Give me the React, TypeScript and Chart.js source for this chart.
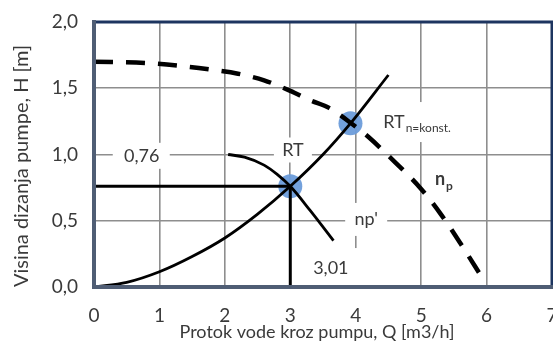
import React, { useEffect, useRef } from "react";
import { Chart, registerables } from "chart.js";

Chart.register(...registerables);

// ---- data ----
const X_MIN = 0;
const X_MAX = 7;
const Y_MIN = 0;
const Y_MAX = 2;

// pump curve n_p (dashed)
const PUMP_Q = [0, 0.8, 1.3, 1.8, 2.2, 2.6, 3.0, 3.3, 3.6, 3.92, 4.2, 4.5, 5.0, 5.3, 5.6, 5.92];
const PUMP_H = [1.7, 1.69, 1.67, 1.64, 1.61, 1.56, 1.48, 1.41, 1.35, 1.24, 1.13, 0.99, 0.74, 0.55, 0.33, 0.08];

// system curve RT
const SYS_Q = [0, 0.5, 1, 1.5, 2, 2.5, 3, 3.5, 3.92, 4.5];
const SYS_H = [0, 0.035, 0.115, 0.23, 0.37, 0.55, 0.76, 1.0, 1.235, 1.6];

// reduced-speed pump curve np'
const NP2_Q = [2.05, 2.3, 2.6, 2.8, 3.0, 3.3, 3.66];
const NP2_H = [1.0, 0.98, 0.92, 0.85, 0.76, 0.58, 0.35];

// operating points
const OP_Q = [3.0];
const OP_H = [0.76];
const OPN_Q = [3.92];
const OPN_H = [1.235];

// text labels
const LABEL_TEXT = ["0,76", "RT", "RT", "n", "np'", "3,01"];
const LABEL_SUB = ["", "", "n=konst.", "p", "", ""];
const LABEL_Q = [0.73, 3.04, 4.42, 5.21, 4.16, 3.62];
const LABEL_H = [0.99, 1.034, 1.245, 0.81, 0.51, 0.143];

const X_TITLE = "Protok vode kroz pumpu, Q [m3/h]";
const Y_TITLE = "Visina dizanja pumpe, H [m]";

// ---- styling for labels (px) ----
const LABEL_STYLE = [
  { align: "center", bold: false, box: [-29, 57, 26] },
  { align: "center", bold: false, box: [-19, 38, 25] },
  { align: "left", bold: false, box: [-5, 82, 40] },
  { align: "left", bold: true, box: null },
  { align: "center", bold: false, box: [-21, 42, 33] },
  { align: "center", bold: false, box: [-29, 60, 40] },
];

const FONT = "Lato, 'Open Sans', sans-serif";
const TEXT_COLOR = "#3a3a3a";

function pts(xs: number[], ys: number[]) {
  return xs.map((x, i) => ({ x, y: ys[i] }));
}

const overlayPlugin = {
  id: "overlay",
  beforeDatasetsDraw(chart: any) {
    const { ctx, scales } = chart;
    const xs = scales.x;
    const ys = scales.y;
    ctx.save();
    LABEL_TEXT.forEach((text, i) => {
      const st = LABEL_STYLE[i];
      const sub = LABEL_SUB[i];
      const px = xs.getPixelForValue(LABEL_Q[i]);
      const py = ys.getPixelForValue(LABEL_H[i]);
      if (st.box) {
        ctx.fillStyle = "#ffffff";
        ctx.fillRect(px + st.box[0], py - st.box[2] / 2, st.box[1], st.box[2]);
      }
      const mainFont = `${st.bold ? "bold " : ""}18px ${FONT}`;
      const subFont = `${st.bold ? "bold " : ""}12px ${FONT}`;
      ctx.font = mainFont;
      const w1 = ctx.measureText(text).width;
      ctx.font = subFont;
      const w2 = sub ? ctx.measureText(sub).width : 0;
      const total = w1 + w2;
      const left = st.align === "center" ? px - total / 2 : px;
      ctx.fillStyle = TEXT_COLOR;
      ctx.textBaseline = "middle";
      ctx.textAlign = "left";
      ctx.font = mainFont;
      ctx.fillText(text, left, py);
      if (sub) {
        ctx.font = subFont;
        ctx.fillText(sub, left + w1 + 1, py + 6);
      }
    });
    ctx.restore();
  },
  afterDraw(chart: any) {
    const { ctx, chartArea: a } = chart;
    ctx.save();
    ctx.lineCap = "square";
    // top & right
    ctx.strokeStyle = "#1d3560";
    ctx.lineWidth = 3;
    ctx.beginPath();
    ctx.moveTo(a.left, a.top);
    ctx.lineTo(a.right, a.top);
    ctx.lineTo(a.right, a.bottom);
    ctx.stroke();
    // left & bottom
    ctx.strokeStyle = "#4f5d74";
    ctx.lineWidth = 4;
    ctx.beginPath();
    ctx.moveTo(a.left, a.top);
    ctx.lineTo(a.left, a.bottom);
    ctx.lineTo(a.right, a.bottom);
    ctx.stroke();

    // axis titles
    ctx.fillStyle = TEXT_COLOR;
    ctx.textAlign = "center";
    ctx.textBaseline = "middle";
    ctx.font = `18px ${FONT}`;
    ctx.fillText(X_TITLE, 317, 332);
    ctx.translate(22, 166);
    ctx.rotate(-Math.PI / 2);
    ctx.font = `20px ${FONT}`;
    ctx.fillText(Y_TITLE, 0, 0);
    ctx.restore();
  },
};

export default function App() {
  const ref = useRef<HTMLCanvasElement | null>(null);

  useEffect(() => {
    if (!ref.current) return;
    const lineBase = {
      borderColor: "#000000",
      pointRadius: 0,
      fill: false,
      showLine: true,
    };
    const chart = new Chart(ref.current, {
      type: "scatter",
      data: {
        datasets: [
          {
            ...lineBase,
            label: "n_p",
            data: pts(PUMP_Q, PUMP_H),
            borderWidth: 4.5,
            borderDash: [19, 13],
            cubicInterpolationMode: "monotone",
          },
          {
            ...lineBase,
            label: "RT",
            data: pts(SYS_Q, SYS_H),
            borderWidth: 2.8,
            cubicInterpolationMode: "monotone",
          },
          {
            ...lineBase,
            label: "np'",
            data: pts(NP2_Q, NP2_H),
            borderWidth: 2.8,
            cubicInterpolationMode: "monotone",
          },
          {
            ...lineBase,
            label: "H line",
            data: [
              { x: X_MIN, y: OP_H[0] },
              { x: OP_Q[0], y: OP_H[0] },
            ],
            borderWidth: 3,
          },
          {
            ...lineBase,
            label: "Q line",
            data: [
              { x: OP_Q[0], y: Y_MIN },
              { x: OP_Q[0], y: OP_H[0] },
            ],
            borderWidth: 3,
          },
          {
            label: "points",
            data: [...pts(OP_Q, OP_H), ...pts(OPN_Q, OPN_H)],
            showLine: false,
            pointRadius: 12,
            pointBackgroundColor: "rgba(108,156,218,0.95)",
            pointBorderWidth: 0,
            borderWidth: 0,
            clip: false,
          },
        ],
      } as any,
      options: {
        responsive: false,
        animation: false,
        events: [],
        layout: { autoPadding: false, padding: { top: 22, right: 1, left: 0, bottom: 0 } },
        plugins: {
          legend: { display: false },
          tooltip: { enabled: false },
        },
        scales: {
          x: {
            type: "linear",
            min: X_MIN,
            max: X_MAX,
            ticks: {
              stepSize: 1,
              padding: 17,
              color: TEXT_COLOR,
              font: { family: FONT, size: 19 },
              callback: (v: any) => String(v),
            },
            grid: { color: "#8e8e8e", lineWidth: 1.6, drawTicks: false },
            border: { display: false },
            title: { display: false },
            afterFit: (s: any) => {
              s.height = 55;
              s.paddingLeft = 0;
              s.paddingRight = 0;
            },
          },
          y: {
            type: "linear",
            min: Y_MIN,
            max: Y_MAX,
            ticks: {
              stepSize: 0.5,
              padding: 16,
              color: TEXT_COLOR,
              font: { family: FONT, size: 19 },
              callback: (v: any) => Number(v).toFixed(1).replace(".", ","),
            },
            grid: { color: "#8e8e8e", lineWidth: 1.6, drawTicks: false },
            border: { display: false },
            title: { display: false },
            afterFit: (s: any) => {
              s.width = 94;
              s.paddingTop = 0;
              s.paddingBottom = 0;
            },
          },
        },
      } as any,
      plugins: [overlayPlugin],
    });
    return () => chart.destroy();
  }, []);

  return (
    <div style={{ position: "absolute", left: 0, top: 0, width: 553, height: 342, overflow: "hidden", background: "#fff" }}>
      <canvas ref={ref} width={553} height={342} style={{ display: "block" }} />
    </div>
  );
}
